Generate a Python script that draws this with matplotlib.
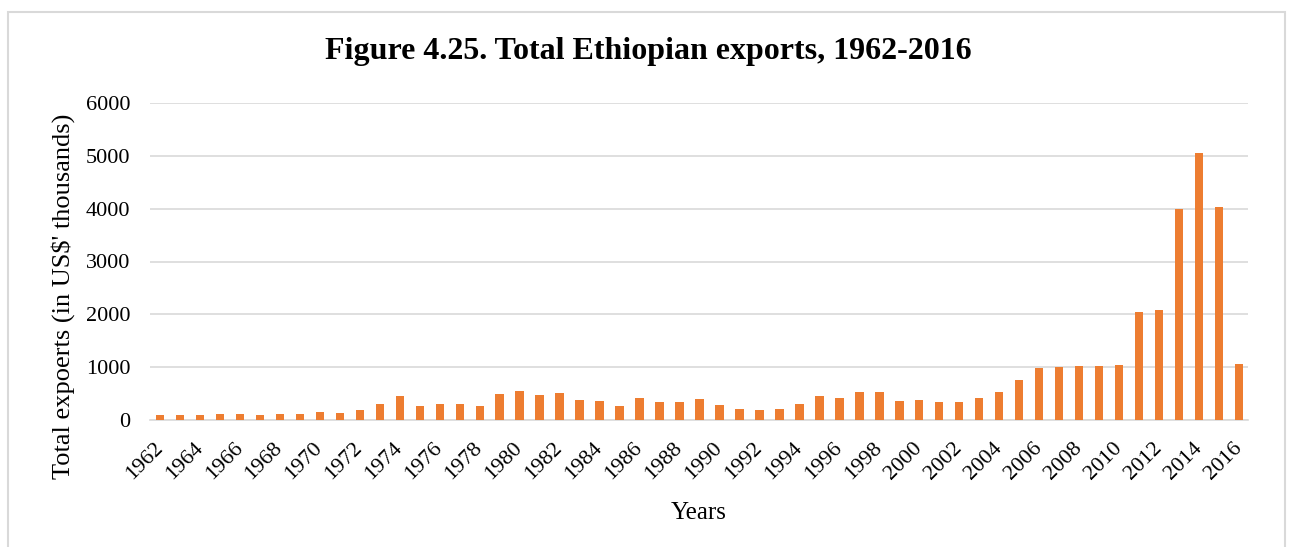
import matplotlib
matplotlib.use("Agg")
import numpy as np
from matplotlib import pyplot as plt
from matplotlib.patches import Rectangle

# Total exports per year, US$ thousands
years = list(range(1962, 2017))
exports = [
    90, 90, 100, 115, 110, 100, 115, 120, 157, 140,      # 1962-1971
    190, 300, 455, 270, 295, 300, 270, 490, 547, 465,    # 1972-1981
    516, 377, 358, 264, 409, 340, 333, 396, 283, 208,    # 1982-1991
    182, 208, 296, 453, 415, 528, 528, 358, 377, 340,    # 1992-2001
    346, 415, 528, 755, 975, 1000, 1019, 1031, 1050, 2053,  # 2002-2011
    2078, 4000, 5060, 4024, 1065,                        # 2012-2016
]
y_ticks = [0, 1000, 2000, 3000, 4000, 5000, 6000]

plt.rcParams['font.family'] = ['Liberation Serif', 'DejaVu Serif']

fig = plt.figure(figsize=(12.9, 5.47), dpi=100)
ax = fig.add_axes([150 / 1290, 1 - 420 / 547, 1098 / 1290, 317 / 547])

# light frame around the whole chart
fig.patches.append(Rectangle((8 / 1290, -0.1), 1277 / 1290, 1.1 - 12 / 547,
                             transform=fig.transFigure, fill=False,
                             edgecolor='#d9d9d9', linewidth=1.5))

x = np.arange(len(years))
ax.bar(x, exports, width=0.42, color='#ED7D31', zorder=3)

ax.set_xlim(-0.5, len(years) - 0.55)
ax.set_ylim(0, 6000)
ax.set_yticks(y_ticks)
ax.set_yticklabels([str(v) for v in y_ticks], fontsize=16)
ax.set_xticks(x[::2])
ax.set_xticklabels([str(y) for y in years[::2]], rotation=45, ha='right',
                   va='center', rotation_mode='anchor', fontsize=16)
ax.tick_params(length=0)
ax.tick_params(axis='y', pad=14)
ax.tick_params(axis='x', pad=18)

ax.grid(axis='y', color='#d9d9d9', linewidth=1.2, zorder=0)
for side in ['top', 'right', 'left']:
    ax.spines[side].set_visible(False)
ax.spines['bottom'].set_color('#d9d9d9')
ax.spines['bottom'].set_linewidth(1.2)

ax.set_ylabel("Total expoerts (in US$' thousands)", fontsize=19)
ax.yaxis.set_label_coords(-0.068, 0.39)
ax.set_xlabel('Years', fontsize=18)
ax.xaxis.set_label_coords(0.5, -0.26)
fig.text(648 / 1290, 1 - 52 / 547, 'Figure 4.25. Total Ethiopian exports, 1962-2016',
         ha='center', va='center', fontsize=23, fontweight='bold')

fig.savefig('out.png', dpi=100)
